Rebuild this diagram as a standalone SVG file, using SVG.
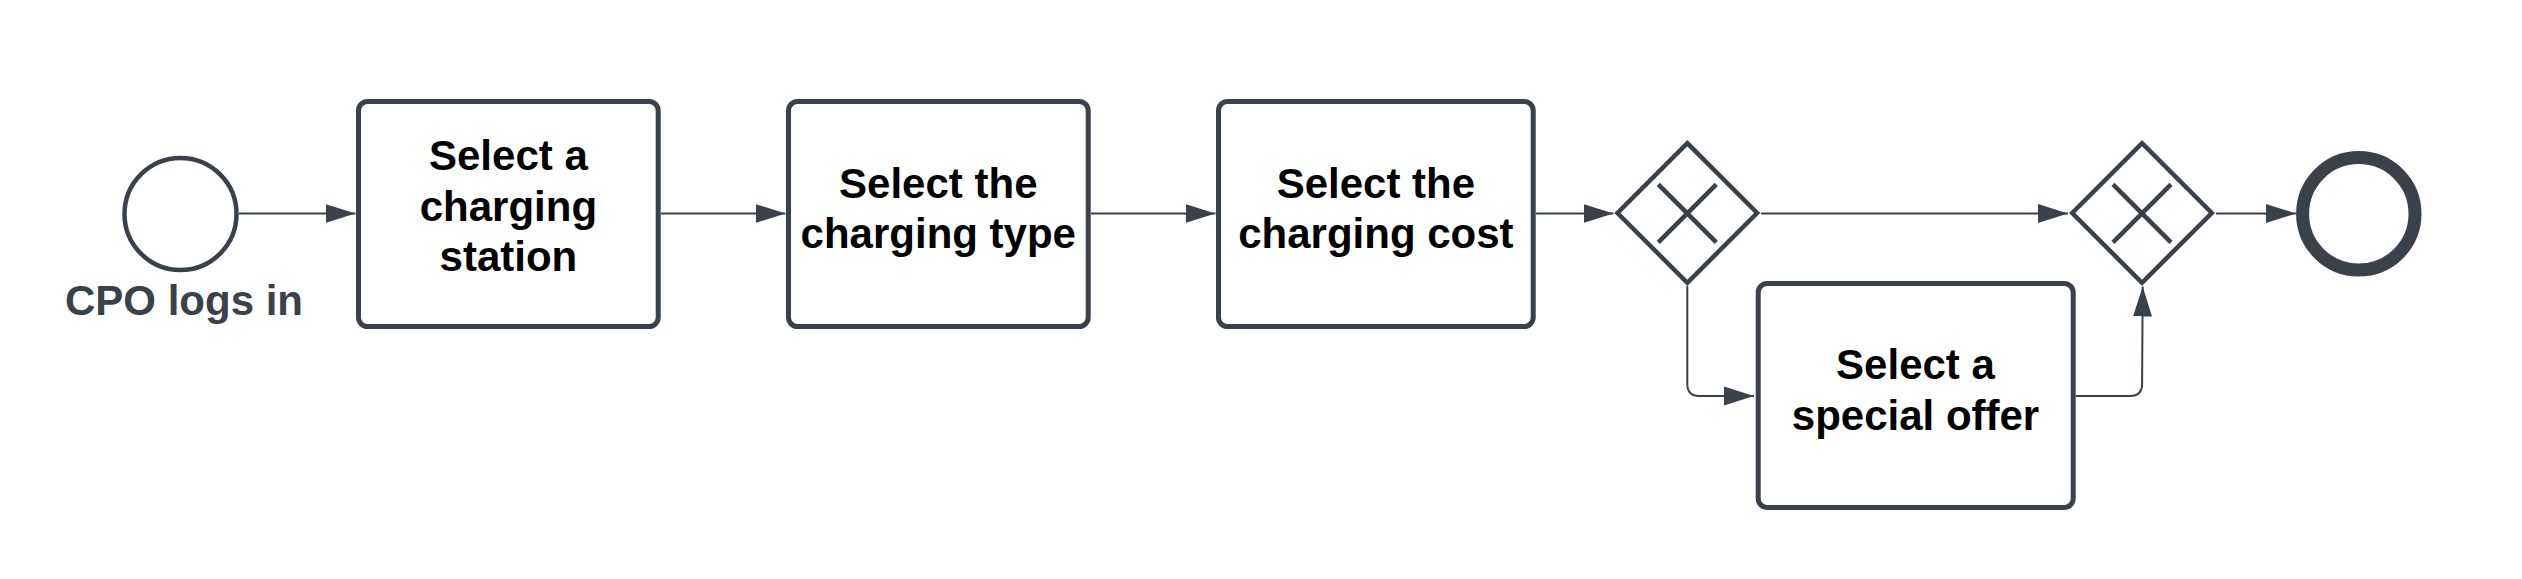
<svg xmlns="http://www.w3.org/2000/svg" width="2522" height="579" viewBox="0 0 2522 579">
<style>
.task{fill:#fff;stroke:#3a414a;stroke-width:5}
.ev{fill:#fff;stroke:#3a414a}
.gw{fill:#fff;stroke:#3a414a;stroke-width:4.5;stroke-linejoin:miter}
.gx{stroke:#3a414a;stroke-width:4.5;fill:none}
.lbl{font-family:"Liberation Sans",Arial,sans-serif;font-weight:bold;font-size:42px;text-anchor:middle;fill:#000}
.evl{font-family:"Liberation Sans",Arial,sans-serif;font-weight:bold;font-size:42px;text-anchor:middle;fill:#3a414a}
.flow{fill:none;stroke:#3a414a;stroke-width:2}
</style>
<defs>
<marker id="ah" markerUnits="userSpaceOnUse" markerWidth="31" markerHeight="21" refX="30" refY="10" orient="auto">
<path d="M0,0.5 L30,10 L0,19.5 z" fill="#3a414a"/>
</marker>
</defs>
<rect width="2522" height="579" fill="#fff"/>
<g id="connectors">
<path class="flow" d="M239 213.5 H355.5" marker-end="url(#ah)"/>
<path class="flow" d="M661 213.5 H785.5" marker-end="url(#ah)"/>
<path class="flow" d="M1091 213.5 H1215.5" marker-end="url(#ah)"/>
<path class="flow" d="M1536 213.5 H1613.5" marker-end="url(#ah)"/>
<path class="flow" d="M1761 213.5 H2068" marker-end="url(#ah)"/>
<path class="flow" d="M1687.3 286 V384 Q1687.3 396 1699.3 396 H1754" marker-end="url(#ah)"/>
<path class="flow" d="M2076 396 H2130 Q2142 396 2142.1 384 L2142.7 286.5" marker-end="url(#ah)"/>
<path class="flow" d="M2216 213.5 H2296" marker-end="url(#ah)"/>
</g>
<g id="start">
<circle class="ev" cx="180.5" cy="214" r="56" stroke-width="4.5"/>
<text class="evl" x="184" y="315">CPO logs in</text>
</g>
<g id="task1">
<rect class="task" x="358.5" y="101.5" width="299.7" height="225" rx="9"/>
<text class="lbl" x="508.4" y="170.3">Select a</text>
<text class="lbl" x="508.4" y="220.7">charging</text>
<text class="lbl" x="508.4" y="271.1">station</text>
</g>
<g id="task2">
<rect class="task" x="788.5" y="101.5" width="299.7" height="225" rx="9"/>
<text class="lbl" x="938.3" y="198">Select the</text>
<text class="lbl" x="938.3" y="248.4">charging type</text>
</g>
<g id="task3">
<rect class="task" x="1218.5" y="101.5" width="314.7" height="225" rx="9"/>
<text class="lbl" x="1375.9" y="198">Select the</text>
<text class="lbl" x="1375.9" y="248.4">charging cost</text>
</g>
<g id="gateway1">
<polygon class="gw" points="1687.3,143.2 1757.1,213 1687.3,282.8 1617.5,213"/>
<path class="gx" d="M1658.3 184.3 L1716.3 242.3 M1716.3 184.3 L1658.3 242.3"/>
</g>
<g id="gateway2">
<polygon class="gw" points="2142,143.2 2211.8,213 2142,282.8 2072.2,213"/>
<path class="gx" d="M2113 184.3 L2171 242.3 M2171 184.3 L2113 242.3"/>
</g>
<g id="task4">
<rect class="task" x="1758.2" y="283.5" width="315" height="224" rx="9"/>
<text class="lbl" x="1915.5" y="379.3">Select a</text>
<text class="lbl" x="1915.5" y="429.7">special offer</text>
</g>
<g id="end">
<circle class="ev" cx="2358.8" cy="213.8" r="56.2" stroke-width="13"/>
</g>
</svg>
